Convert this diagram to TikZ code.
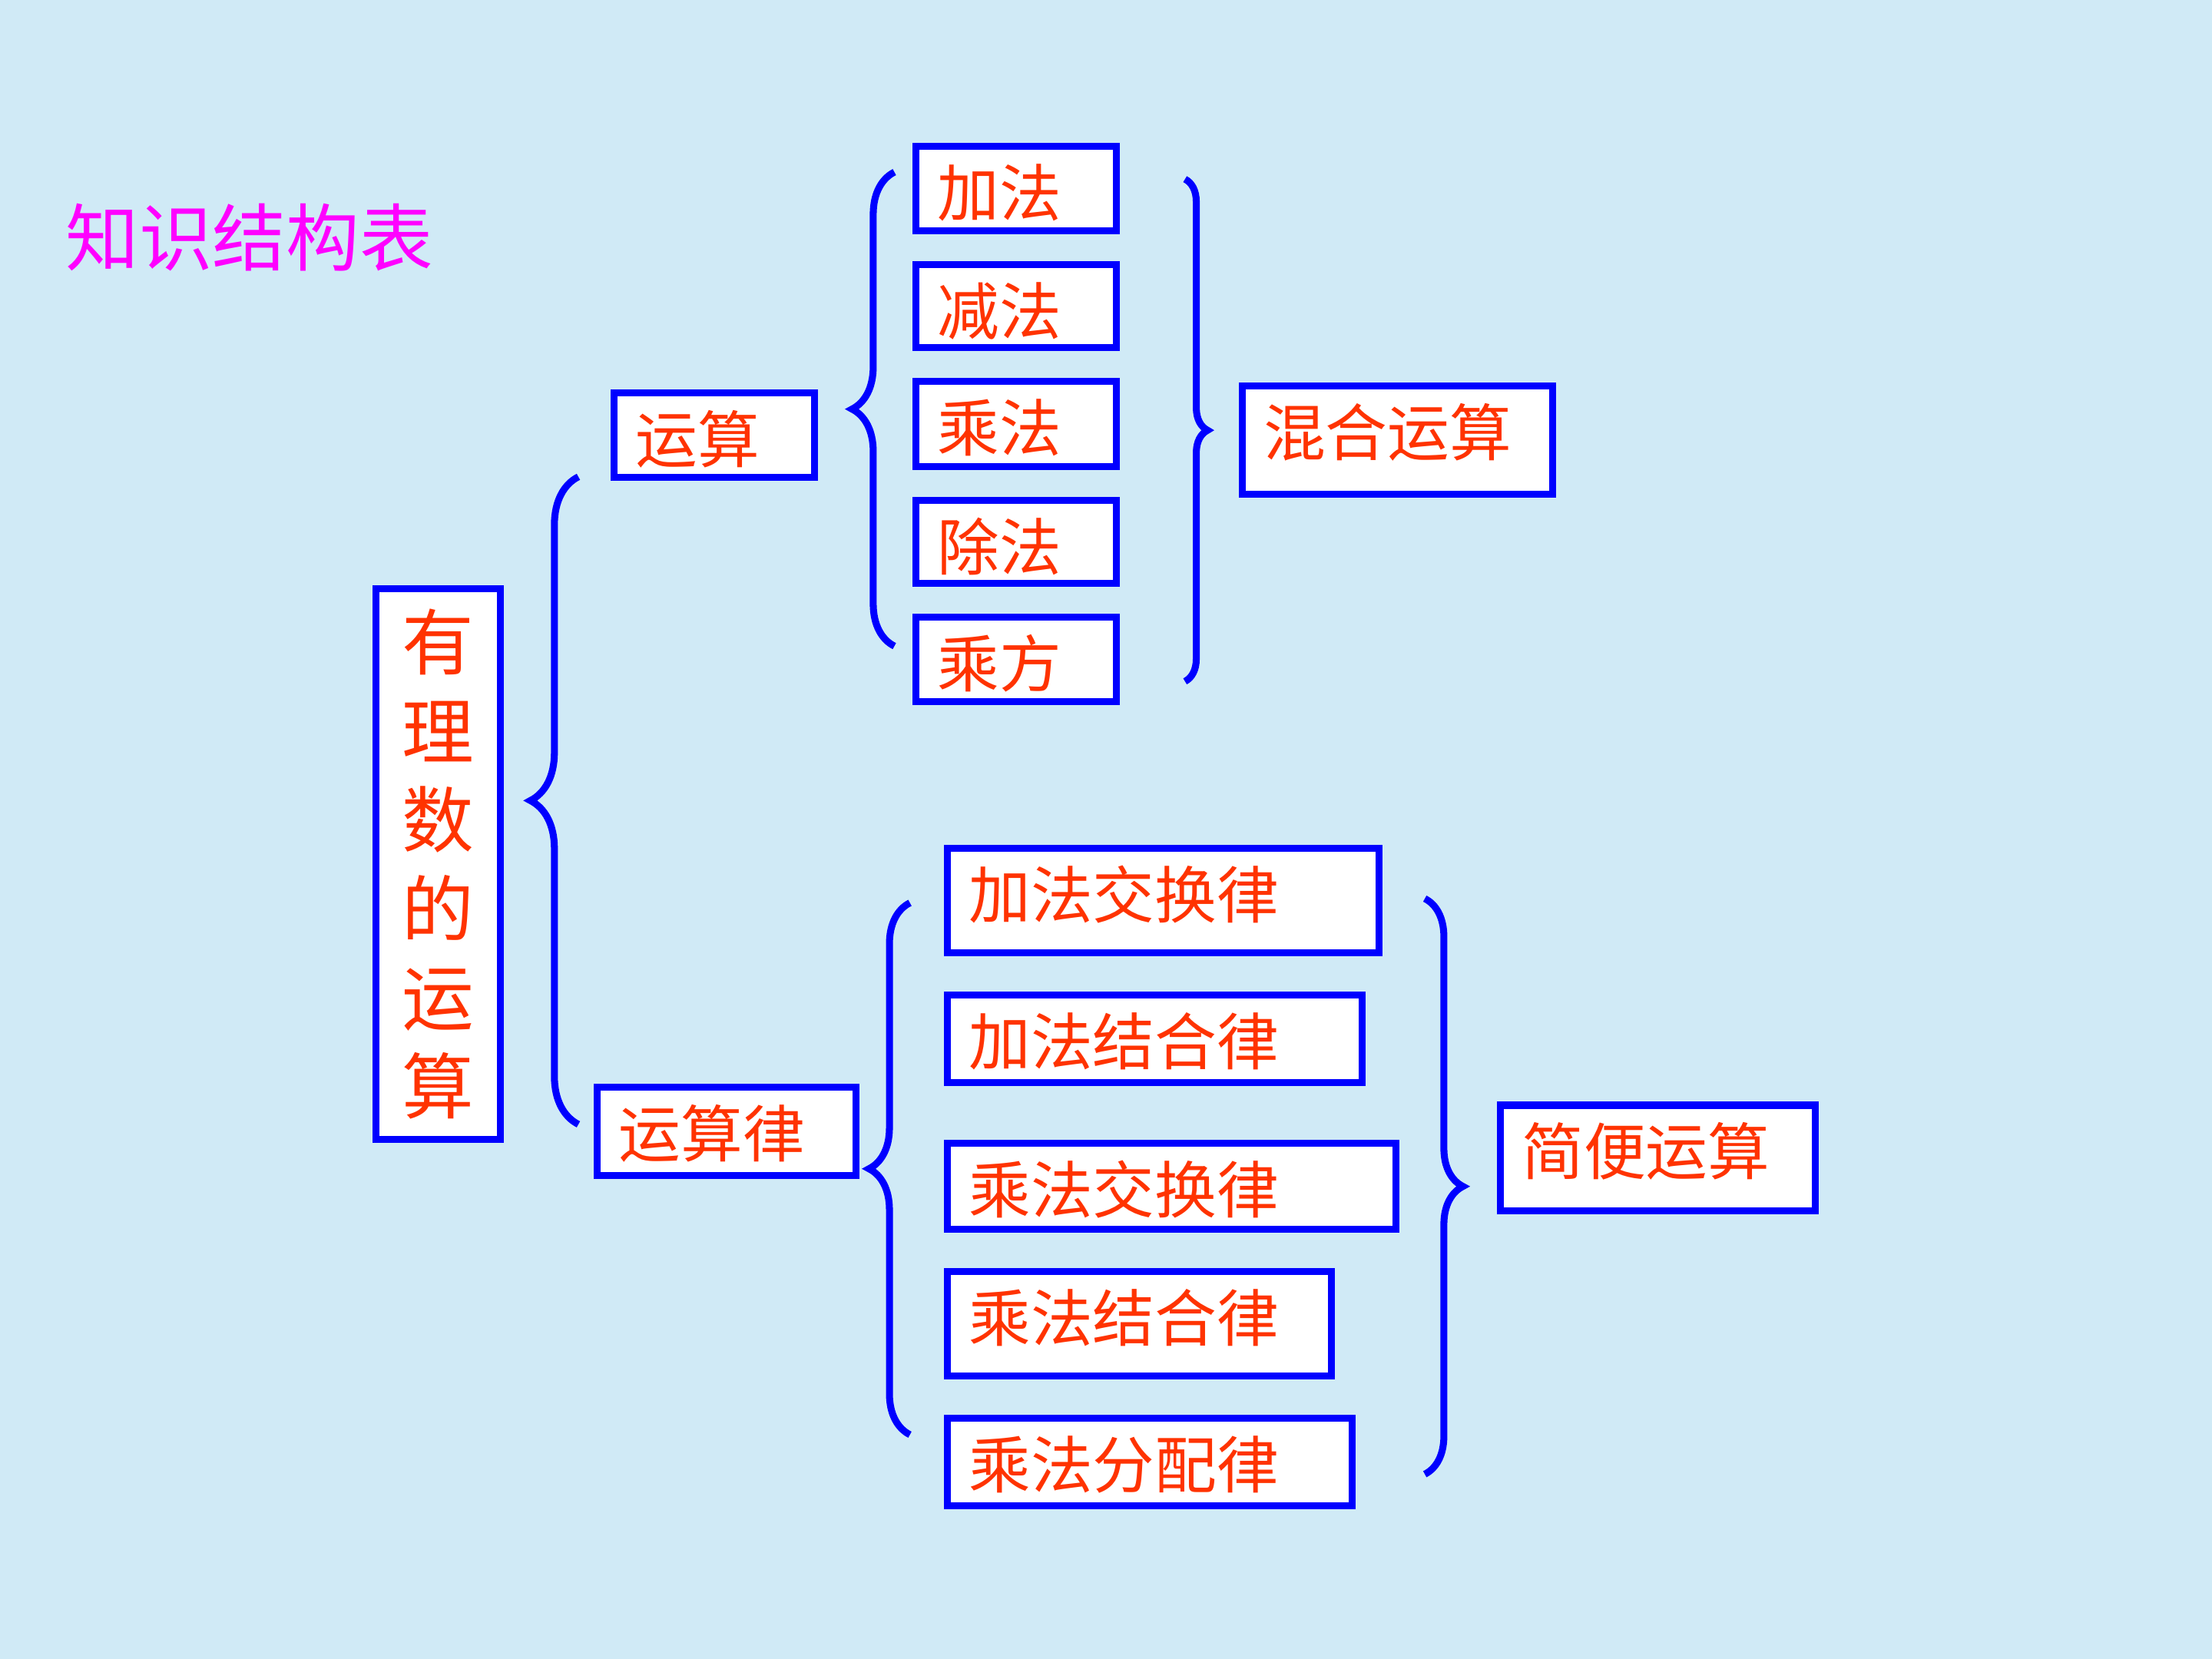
\documentclass[tikz,border=0pt]{standalone}
\usepackage{fontspec}
\newfontfamily\cjk{Noto Sans CJK SC}
\usepackage{tikz}
\usetikzlibrary{positioning,calc,decorations.pathreplacing}

\definecolor{bgblue}{RGB}{208,234,246}
\definecolor{boxblue}{RGB}{0,0,255}
\definecolor{txtred}{RGB}{255,51,0}
\definecolor{titlemag}{RGB}{255,0,255}

\tikzset{
  kbox/.style={draw=boxblue,fill=white,line width=1.4pt,inner sep=0pt,anchor=north west},
  ktext/.style={anchor=base west,inner sep=0pt,text=txtred,font=\cjk\fontsize{12.5pt}{15pt}\selectfont},
  kbrace/.style={draw=boxblue,line width=1.4pt,decorate,decoration={brace,amplitude=#1}},
}

\begin{document}
\begin{tikzpicture}[x=0.01cm,y=-0.01cm]
    \fill[bgblue] (0,0) rectangle (1568,1176);
    \useasboundingbox (0,0) rectangle (1568,1176);

    % title
    \node[anchor=base west,inner sep=0pt,text=titlemag,font=\cjk\fontsize{14.8pt}{18pt}\selectfont] (title) at (46,188) {知识结构表};

    % root
    \node[kbox,minimum width=0.88cm,minimum height=3.90cm,text=txtred,align=center,
          font=\cjk\fontsize{14.5pt}{17.9pt}\selectfont] (root) at (264,415) {有\\理\\数\\的\\运\\算};

    % second level
    \node[kbox,minimum width=1.42cm,minimum height=0.60cm] (ys) at (433,276) {};
    \node[kbox,minimum width=1.83cm,minimum height=0.63cm] (ysl) at (421,768) {};

    % operations
    \node[kbox,minimum width=1.42cm,minimum height=0.60cm] (jia) at (647,101) {};
    \node[kbox,minimum width=1.42cm,minimum height=0.59cm] (jian) at (647,185) {};
    \node[kbox,minimum width=1.42cm,minimum height=0.60cm] (cheng) at (647,268) {};
    \node[kbox,minimum width=1.42cm,minimum height=0.59cm] (chu) at (647,352) {};
    \node[kbox,minimum width=1.42cm,minimum height=0.60cm] (fang) at (647,435) {};
    \node[kbox,minimum width=2.20cm,minimum height=0.77cm] (hunhe) at (878,271) {};

    % laws
    \node[kbox,minimum width=3.06cm,minimum height=0.74cm] (jjh) at (669,599) {};
    \node[kbox,minimum width=2.94cm,minimum height=0.62cm] (jjc) at (669,703) {};
    \node[kbox,minimum width=3.18cm,minimum height=0.61cm] (cjh) at (669,808) {};
    \node[kbox,minimum width=2.72cm,minimum height=0.74cm] (cjc) at (669,899) {};
    \node[kbox,minimum width=2.87cm,minimum height=0.62cm] (cfp) at (669,1003) {};
    \node[kbox,minimum width=2.23cm,minimum height=0.75cm] (jb) at (1061,781) {};

    % box texts
    \foreach \n/\t in {ys/运算,ysl/运算律,jia/加法,jian/减法,cheng/乘法,chu/除法,fang/乘方,
                       hunhe/混合运算,jjh/加法交换律,jjc/加法结合律,cjh/乘法交换律,
                       cjc/乘法结合律,cfp/乘法分配律,jb/简便运算}
        \node[ktext] (\n-t) at ([shift={(17,52)}]\n.north west) {\t};

    % braces
    \draw[kbrace=0.34cm] (410,797) -- (410,338);
    \draw[kbrace=0.30cm] (634,458) -- (634,122);
    \draw[kbrace=0.16cm] (840,127) -- (840,483);
    \draw[kbrace=0.29cm] (645,1017) -- (645,640);
    \draw[kbrace=0.27cm] (1010,637) -- (1010,1045);
\end{tikzpicture}
\end{document}
